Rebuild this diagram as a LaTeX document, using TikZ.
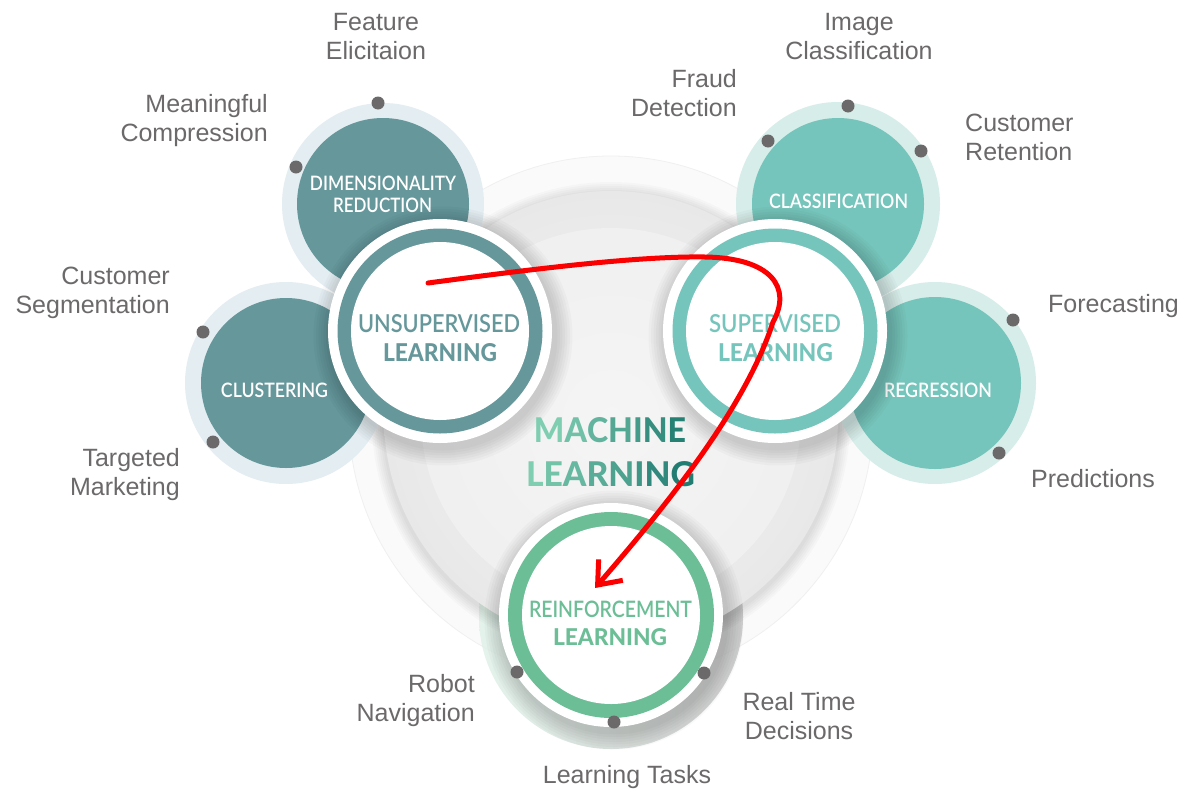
\documentclass[tikz,border=0pt]{standalone}
\usepackage{fontspec}
\usepackage{graphicx}
\setmainfont{Liberation Sans}
\newfontfamily\lato{Lato Semibold}
\newfontfamily\latoB{Lato Heavy}
\usetikzlibrary{arrows.meta}
\definecolor{lblc}{RGB}{108,105,106}
\definecolor{uteal}{RGB}{101,151,155}
\definecolor{uring}{RGB}{228,237,241}
\definecolor{steal}{RGB}{118,197,188}
\definecolor{sring}{RGB}{215,237,233}
\definecolor{rgreen}{RGB}{108,190,150}
\definecolor{dotc}{RGB}{108,105,106}
\definecolor{mlA}{RGB}{128,206,178}
\definecolor{mlB}{RGB}{28,120,110}
\definecolor{redc}{RGB}{250,0,0}
\newcommand{\gl}[2]{\textcolor{mlB!#1!mlA}{#2}}
\newcommand{\fw}[3]{\resizebox{#1pt}{#2pt}{#3}}
\begin{document}
\begin{tikzpicture}[x=1pt,y=-1pt,
  lbl/.style={font=\fontsize{25}{29}\selectfont, text=lblc, inner sep=0pt},
  dotm/.style={circle, fill=dotc, minimum size=13pt, inner sep=0pt},
  disc/.style={circle, inner sep=0pt, minimum size=#1},
  inl/.style={font=\lato, text=white, inner sep=0pt},
  big/.style={font=\lato, inner sep=0pt},
  redarrow/.style={draw=redc, line width=5pt, line cap=round, -{Straight Barb[length=20pt,width=32pt,line width=5pt]}}
]
\useasboundingbox[fill=white] (0,0) rectangle (1182,790);

% ---- central machine learning disc ----
\fill[gray!4] (611,418) circle[radius=262pt];
\draw[gray!12, line width=0.8pt] (611,418) circle[radius=262pt];
\node[disc=264pt, left color=rgreen!22, right color=gray!45, opacity=0.8] (rshadow) at (611,617) {};
\foreach \i in {1,...,6}{
  \fill[black, opacity=0.02] (611,421) circle[radius={227pt+\i*2pt}];
}
\shade[inner color=gray!7, outer color=gray!18] (611,418) circle[radius=227pt];
\shade[inner color=gray!8, outer color=gray!12] (611,418) circle[radius=190pt];

% ---- side circles ----
\node[disc=202pt, fill=uring] (drO) at (383,204) {};
\node[disc=172pt, fill=uteal] (dr) at (383,204) {};
\node[disc=202pt, fill=uring] (clO) at (286,383) {};
\node[disc=170pt, fill=uteal] (cl) at (286,383) {};
\node[disc=204pt, fill=sring] (caO) at (838,204) {};
\node[disc=172pt, fill=steal] (ca) at (838,204) {};
\node[disc=202pt, fill=sring] (reO) at (935,383) {};
\node[disc=172pt, fill=steal] (re) at (935,383) {};

\node[inl] (drT1) at (383,183) {\fw{146}{14.5}{DIMENSIONALITY}};
\node[inl] (drT2) at (382.5,205) {\fw{99}{14.5}{REDUCTION}};
\node[inl] (clT) at (274.5,390) {\fw{107}{14.5}{CLUSTERING}};
\node[inl] (caT) at (838.5,201) {\fw{139}{14.5}{CLASSIFICATION}};
\node[inl] (reT) at (938,390.5) {\fw{108}{14.5}{REGRESSION}};

% ---- main learning circles with shadows ----
\foreach \cx/\cy in {440/331, 775/331, 611/615}{
  \foreach \i in {1,...,7}{
    \fill[black, opacity=0.025] (\cx+3,\cy+5) circle[radius={112pt+\i*2.5pt}];
  }
}
\node[disc=224pt, fill=white] (unO) at (440,331) {};
\node[disc=205pt, fill=uteal] (unR) at (440,331) {};
\node[disc=178pt, fill=white] (un) at (440,331) {};
\node[disc=224pt, fill=white] (suO) at (775,331) {};
\node[disc=205pt, fill=steal] (suR) at (775,331) {};
\node[disc=178pt, fill=white] (su) at (775,331) {};
\node[disc=224pt, fill=white] (rfO) at (611,615) {};
\node[disc=206pt, fill=rgreen] (rfR) at (611,615) {};
\node[disc=178pt, fill=white] (rf) at (611,615) {};

\node[big, text=uteal] (unT1) at (439,324) {\fw{162}{18}{UNSUPERVISED}};
\node[big, text=uteal] (unT2) at (440,352.5) {\fw{114}{18}{\latoB LEARNING}};
\node[big, text=steal] (suT1) at (775,324) {\fw{132}{18}{SUPERVISED}};
\node[big, text=steal] (suT2) at (775.5,352.5) {\fw{115}{18}{\latoB LEARNING}};
\node[big, text=rgreen] (rfT1) at (610.5,609.5) {\fw{163}{16.5}{REINFORCEMENT}};
\node[big, text=rgreen] (rfT2) at (610,637.5) {\fw{114}{17}{\latoB LEARNING}};

\node[big] (ml1) at (610,430.5) {\fw{152}{25}{\latoB\gl{0}{M}\gl{15}{A}\gl{30}{C}\gl{45}{H}\gl{60}{I}\gl{75}{N}\gl{90}{E}}};
\node[big] (ml2) at (610.5,474.5) {\fw{169}{25}{\latoB\gl{0}{L}\gl{13}{E}\gl{26}{A}\gl{39}{R}\gl{52}{N}\gl{65}{I}\gl{80}{N}\gl{95}{G}}};

% ---- dots ----
\node[dotm] (d1) at (378,103) {};
\node[dotm] (d2) at (296,167) {};
\node[dotm] (d3) at (203,332) {};
\node[dotm] (d4) at (213,442) {};
\node[dotm] (d5) at (768,141) {};
\node[dotm] (d6) at (848,106) {};
\node[dotm] (d7) at (921,151) {};
\node[dotm] (d8) at (1013,320) {};
\node[dotm] (d9) at (999,453) {};
\node[dotm] (d10) at (517,672) {};
\node[dotm] (d11) at (614,722) {};
\node[dotm] (d12) at (704,673) {};

% ---- labels ----
\node[lbl, align=center] (l1) at (376,37) {Feature\\Elicitaion};
\node[lbl, align=right, anchor=east] (l2) at (268,121) {Meaningful\\Compression};
\node[lbl, align=right, anchor=east] (l3) at (170,293) {Customer\\Segmentation};
\node[lbl, align=right, anchor=east] (l4) at (180,475) {Targeted\\Marketing};
\node[lbl, align=right, anchor=east] (l5) at (737,93) {Fraud\\Detection};
\node[lbl, align=center] (l6) at (859,37) {Image\\Classification};
\node[lbl, align=left, anchor=west] (l7) at (965,137) {Customer\\Retention};
\node[lbl, anchor=west] (l8) at (1048,306) {Forecasting};
\node[lbl, anchor=west] (l9) at (1031,479) {Predictions};
\node[lbl, align=right, anchor=east] (l10) at (475,701) {Robot\\Navigation};
\node[lbl, align=center] (l11) at (799,716) {Real Time\\Decisions};
\node[lbl] (l12) at (627,777) {Learning Tasks};

% ---- red arrow ----
\coordinate (astart) at (428,283);
\coordinate (atop) at (705,257);
\coordinate (aturn) at (773,322);
\coordinate (aend) at (595,588);
\draw[redarrow] (astart) .. controls (540,268) and (640,256) .. (atop)
  .. controls (772,258) and (792,288) .. (aturn)
  .. controls (748,400) and (680,490) .. (aend);
\end{tikzpicture}
\end{document}
